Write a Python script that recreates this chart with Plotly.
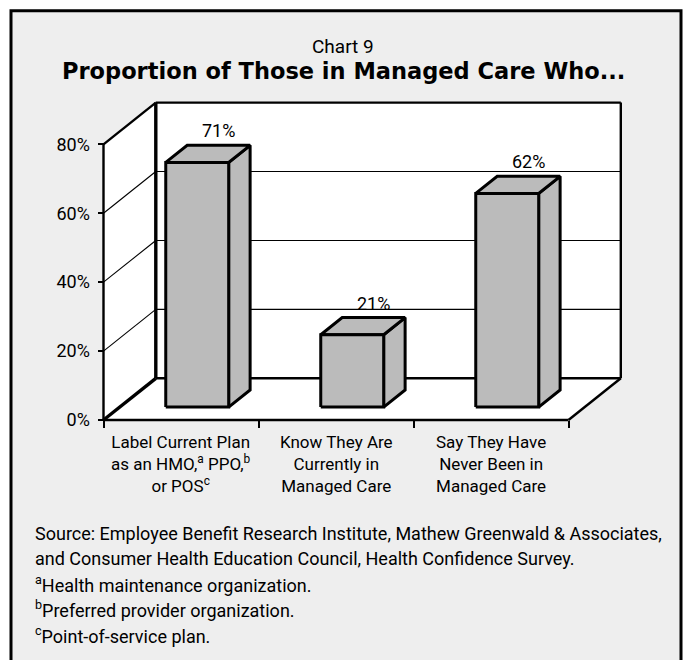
import plotly.graph_objects as go

# ---------------- data ----------------
categories = [
    ["Label Current Plan", "as an HMO,<sup>a</sup> PPO,<sup>b</sup>", "or POS<sup>c</sup>"],
    ["Know They Are", "Currently in", "Managed Care"],
    ["Say They Have", "Never Been in", "Managed Care"],
]
values = [71, 21, 62]
value_labels = ["71%", "21%", "62%"]
tick_values = [0, 20, 40, 60, 80]
tick_labels = ["0%", "20%", "40%", "60%", "80%"]
chart_number = "Chart 9"
chart_title = "Proportion of Those in Managed Care Who..."
notes = [
    "Source: Employee Benefit Research Institute, Mathew Greenwald & Associates,",
    "and Consumer Health Education Council, Health Confidence Survey.",
    "<sup>a</sup>Health maintenance organization.",
    "<sup>b</sup>Preferred provider organization.",
    "<sup>c</sup>Point-of-service plan.",
]

# ---------------- page geometry ----------------
W, H = 686, 660
AXIS_X_PX = 103.5          # front value axis
FLOOR_Y_PX = 420.0         # front floor edge (0 %)
PX_PER_CAT = 155.0
PX_PER_PCT = 3.446
DEPTH_PX = (52.3, 41.7)    # oblique projection of the chart depth

N = len(values)
YMAX = tick_values[-1]
DX = DEPTH_PX[0] / PX_PER_CAT
DY = DEPTH_PX[1] / PX_PER_PCT
BAR_HALF = 0.203
F0, F1 = 0.31, 0.72        # bar front / back depth fractions

TEXT_FONT = "Roboto, Liberation Sans, sans-serif"
BOLD = "DejaVu Sans, Verdana, sans-serif"
BAR_GRAY = "#bbbbbb"
PANEL = "#eeeeee"


def proj(x, depth, h):
    return x + depth * DX, h + depth * DY


def polygon(points, fill, width=0.0):
    xs = [p[0] for p in points] + [points[0][0]]
    ys = [p[1] for p in points] + [points[0][1]]
    return go.Scatter(
        x=xs, y=ys, mode="lines", fill="toself", fillcolor=fill,
        line=dict(color="black", width=width), hoverinfo="skip", showlegend=False,
    )


def segments(pairs, width):
    xs, ys = [], []
    for (a, b) in pairs:
        xs += [a[0], b[0], None]
        ys += [a[1], b[1], None]
    return go.Scatter(
        x=xs, y=ys, mode="lines", line=dict(color="black", width=width),
        hoverinfo="skip", showlegend=False,
    )


fig = go.Figure()

# walls and floor
fig.add_trace(polygon([(0, 0), (DX, DY), (DX, YMAX + DY), (0, YMAX)], "white"))
fig.add_trace(polygon([(DX, DY), (N + DX, DY), (N + DX, YMAX + DY), (DX, YMAX + DY)], "white"))
fig.add_trace(polygon([(0, 0), (N, 0), (N + DX, DY), (DX, DY)], "white"))

# gridlines on the side and back walls
grid = []
for t in tick_values[1:-1]:
    grid.append(((0, t), (DX, t + DY)))
    grid.append(((DX, t + DY), (N + DX, t + DY)))
fig.add_trace(segments(grid, 1.1))

# wall edges
fig.add_trace(segments([
    ((0, 0), (0, YMAX)),
    ((0, YMAX), (DX, YMAX + DY)),
    ((DX, YMAX + DY), (N + DX, YMAX + DY)),
    ((N + DX, YMAX + DY), (N + DX, DY)),
    ((DX, DY), (N + DX, DY)),
    ((0, 0), (N, 0)),
    ((N, 0), (N + DX, DY)),
], 2.4))
fig.add_trace(segments([
    ((0, 0), (DX, DY)),
    ((DX, DY), (DX, YMAX + DY)),
], 3.4))

# 3-D columns
for i, v in enumerate(values):
    c = i + 0.5
    xl, xr = c - BAR_HALF, c + BAR_HALF
    side = [proj(xr, F0, 0), proj(xr, F1, 0), proj(xr, F1, v), proj(xr, F0, v)]
    top = [proj(xl, F0, v), proj(xr, F0, v), proj(xr, F1, v), proj(xl, F1, v)]
    front = [proj(xl, F0, 0), proj(xr, F0, 0), proj(xr, F0, v), proj(xl, F0, v)]
    for face in (side, top, front):
        fig.add_trace(polygon(face, BAR_GRAY, 3.0))

annotations = []

# value labels above each column
for i, (v, lab) in enumerate(zip(values, value_labels)):
    lx, ly = proj(i + 0.5, F1, v)
    annotations.append(dict(
        x=lx, y=ly, xref="x", yref="y", text=lab, showarrow=False,
        xanchor="center", yanchor="bottom", yshift=2,
        font=dict(family=TEXT_FONT, size=18, color="black"),
    ))

# category labels under the floor
for i, lines in enumerate(categories):
    annotations.append(dict(
        x=i + 0.5, y=1 - 463.5 / H, xref="x", yref="paper", text="<br>".join(lines),
        showarrow=False, xanchor="center", yanchor="middle", align="center",
        font=dict(family=TEXT_FONT, size=17, color="black"),
    ))

# headings
annotations.append(dict(
    x=0.5, y=1 - 47 / H, xref="paper", yref="paper", text=chart_number,
    showarrow=False, xanchor="center", yanchor="middle",
    font=dict(family=TEXT_FONT, size=19, color="black"),
))
annotations.append(dict(
    x=0.5, y=1 - 71 / H, xref="paper", yref="paper", text="<b>" + chart_title + "</b>",
    showarrow=False, xanchor="center", yanchor="middle",
    font=dict(family=BOLD, size=22.5, color="black"),
))

# source and footnotes
NOTE_LINE_PX = [533, 558, 583.5, 609, 634.5]
for ln, ypx in zip(notes, NOTE_LINE_PX):
    annotations.append(dict(
        x=33 / W, y=1 - ypx / H, xref="paper", yref="paper", text=ln,
        showarrow=False, xanchor="left", yanchor="middle",
        font=dict(family=TEXT_FONT, size=18, color="black"),
    ))

fig.update_layout(
    width=W, height=H, autosize=False,
    margin=dict(l=0, r=0, t=0, b=0, pad=0),
    paper_bgcolor="white", plot_bgcolor="rgba(0,0,0,0)",
    showlegend=False,
    annotations=annotations,
    shapes=[dict(
        type="rect", xref="paper", yref="paper", layer="below",
        x0=11 / W, x1=681 / W, y0=-0.05, y1=1 - 10.7 / H,
        fillcolor=PANEL, line=dict(color="black", width=3),
    )],
    xaxis=dict(
        range=[-AXIS_X_PX / PX_PER_CAT, (W - AXIS_X_PX) / PX_PER_CAT],
        domain=[0, 1], anchor="free", position=1 - FLOOR_Y_PX / H,
        tickmode="array", tickvals=list(range(N + 1)), showticklabels=False,
        ticks="outside", ticklen=7, tickwidth=1.5, tickcolor="black",
        showgrid=False, zeroline=False, showline=False, fixedrange=True,
        automargin=False,
    ),
    yaxis=dict(
        range=[-(H - FLOOR_Y_PX) / PX_PER_PCT, FLOOR_Y_PX / PX_PER_PCT],
        domain=[0, 1], anchor="free", position=AXIS_X_PX / W,
        tickmode="array", tickvals=tick_values, ticktext=tick_labels,
        ticks="outside", ticklen=6, tickwidth=1.5, tickcolor="black",
        ticklabelstandoff=4,
        tickfont=dict(family=TEXT_FONT, size=18, color="black"),
        showgrid=False, zeroline=False, showline=False, fixedrange=True,
        automargin=False,
    ),
)

fig.write_html("out.html", config={"displayModeBar": False})
